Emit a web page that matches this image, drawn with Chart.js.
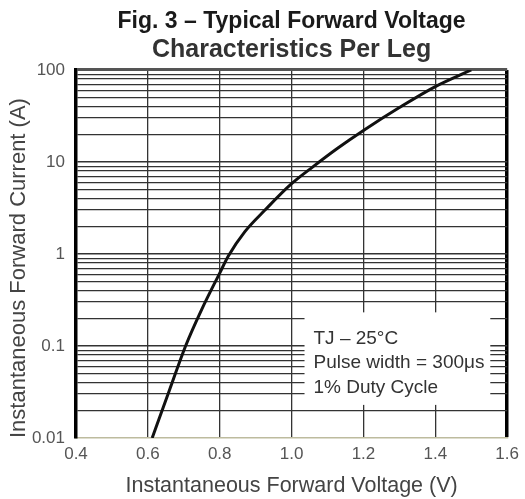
<!DOCTYPE html>
<html>
<head>
<meta charset="utf-8">
<script src="https://cdn.jsdelivr.net/npm/chart.js@4.4.0/dist/chart.umd.min.js"></script>
<style>
  html, body { margin: 0; padding: 0; background: #fff; }
</style>
</head>
<body>
<canvas id="myChart" width="525" height="499"></canvas>
<script>
// forward voltage (V) vs forward current (A)
const voltage = [0.612, 0.66, 0.705, 0.75, 0.80, 0.824, 0.87, 0.926, 1.0, 1.06, 1.127, 1.2, 1.3, 1.4, 1.5]
const current = [0.01, 0.033, 0.1, 0.25, 0.62, 0.95, 1.75, 3.0, 5.8, 8.9, 14, 22, 39, 66, 100]

const xTicks = [0.4, 0.6, 0.8, 1.0, 1.2, 1.4, 1.6]
const xTickLabels = ['0.4', '0.6', '0.8', '1.0', '1.2', '1.4', '1.6']
const yDecades = [0.01, 0.1, 1, 10, 100]
const yTickLabels = ['0.01', '0.1', '1', '10', '100']

const noteLines = ['TJ – 25°C', 'Pulse width = 300μs', '1% Duty Cycle']

// log grid: 1..9 in every decade
let yGrid = []
yDecades.forEach((d, i) => {
    if (i === yDecades.length - 1) { yGrid.push(d); return }
    for (let k = 1; k <= 9; k++) yGrid.push(k === 1 ? d : +(d * k).toPrecision(3))
})

const points = voltage.map((v, i) => ({ x: v, y: current[i] }))

// white box with the test conditions
const notePlugin = {
    id: 'note',
    afterDatasetsDraw(chart) {
        const { ctx, scales: { x, y } } = chart
        const l = x.getPixelForValue(1.036), r = x.getPixelForValue(1.553)
        const t = y.getPixelForValue(0.232), b = y.getPixelForValue(0.0229)
        ctx.save()
        ctx.fillStyle = '#fff'
        ctx.fillRect(l, t, r - l, b - t)
        ctx.fillStyle = '#333'
        ctx.font = '19px "Liberation Sans", Arial, sans-serif'
        ctx.textBaseline = 'middle'
        const tx = x.getPixelForValue(1.061)
        noteLines.forEach((line, i) => ctx.fillText(line, tx, t + 26 + i * 24.5))
        ctx.restore()
    }
}

const ctx = document.getElementById('myChart')

new Chart(ctx, {
    type: 'line',
    data: {
        datasets: [{
            data: points,
            borderColor: '#111',
            borderWidth: 3,
            pointRadius: 0,
            cubicInterpolationMode: 'monotone',
            fill: false
        }]
    },
    options: {
        responsive: false,
        animation: false,
        layout: { padding: { right: 13, left: 0, top: 0, bottom: 0 } },
        plugins: {
            legend: { display: false },
            tooltip: { enabled: false },
            title: {
                display: true,
                text: 'Fig. 3 – Typical Forward Voltage',
                fullSize: false,
                color: '#1a1a1a',
                font: { family: '"Liberation Sans", Arial, sans-serif', size: 23, weight: 'bold', lineHeight: 1.2 },
                padding: { top: 8, bottom: 0 }
            },
            subtitle: {
                display: true,
                text: 'Characteristics Per Leg',
                fullSize: false,
                color: '#333',
                font: { family: '"Liberation Sans", Arial, sans-serif', size: 25, weight: 'bold', lineHeight: 1.15 },
                padding: { top: 0, bottom: 5.6 }
            }
        },
        scales: {
            x: {
                type: 'linear',
                min: 0.4,
                max: 1.6,
                afterBuildTicks: (s) => { s.ticks = xTicks.map(v => ({ value: v })) },
                afterFit: (s) => { s.height = 61 },
                ticks: {
                    autoSkip: false,
                    maxRotation: 0,
                    padding: 6,
                    color: '#555',
                    font: { family: '"Liberation Sans", Arial, sans-serif', size: 17 },
                    callback: (v) => xTickLabels[xTicks.indexOf(+v.toFixed(1))]
                },
                grid: {
                    drawTicks: false,
                    color: (c) => c.index === xTicks.length - 1 ? '#000' : '#333',
                    lineWidth: (c) => c.index === xTicks.length - 1 ? 3.5 : 1.3
                },
                border: { color: '#bdbb9e', width: 1.5 },
                title: {
                    display: true,
                    text: 'Instantaneous Forward Voltage (V)',
                    color: '#444',
                    font: { family: '"Liberation Sans", Arial, sans-serif', size: 21.5, lineHeight: 1.2 },
                    padding: 0
                }
            },
            y: {
                type: 'logarithmic',
                min: 0.01,
                max: 100,
                afterBuildTicks: (s) => { s.ticks = yGrid.map(v => ({ value: v })) },
                afterFit: (s) => { s.width = 76 },
                ticks: {
                    autoSkip: false,
                    padding: 11,
                    color: '#555',
                    font: { family: '"Liberation Sans", Arial, sans-serif', size: 17 },
                    callback: (v) => {
                        const i = yDecades.indexOf(v)
                        return i >= 0 ? yTickLabels[i] : ''
                    }
                },
                grid: {
                    drawTicks: false,
                    color: (c) => {
                        const v = c.tick && c.tick.value
                        if (v === 0.01) return 'rgba(0,0,0,0)'
                        if (v === 100) return '#555'
                        return '#333'
                    },
                    lineWidth: (c) => {
                        const v = c.tick && c.tick.value
                        if (v === 100) return 3
                        return yDecades.includes(v) ? 1.6 : 1.2
                    }
                },
                border: { color: '#000', width: 3.5 },
                title: {
                    display: true,
                    text: 'Instantaneous Forward Current (A)',
                    align: 'start',
                    color: '#444',
                    font: { family: '"Liberation Sans", Arial, sans-serif', size: 22, lineHeight: 1.2 },
                    padding: { top: 6, bottom: 0 }
                }
            }
        }
    },
    plugins: [notePlugin]
});
</script>
</body>
</html>
